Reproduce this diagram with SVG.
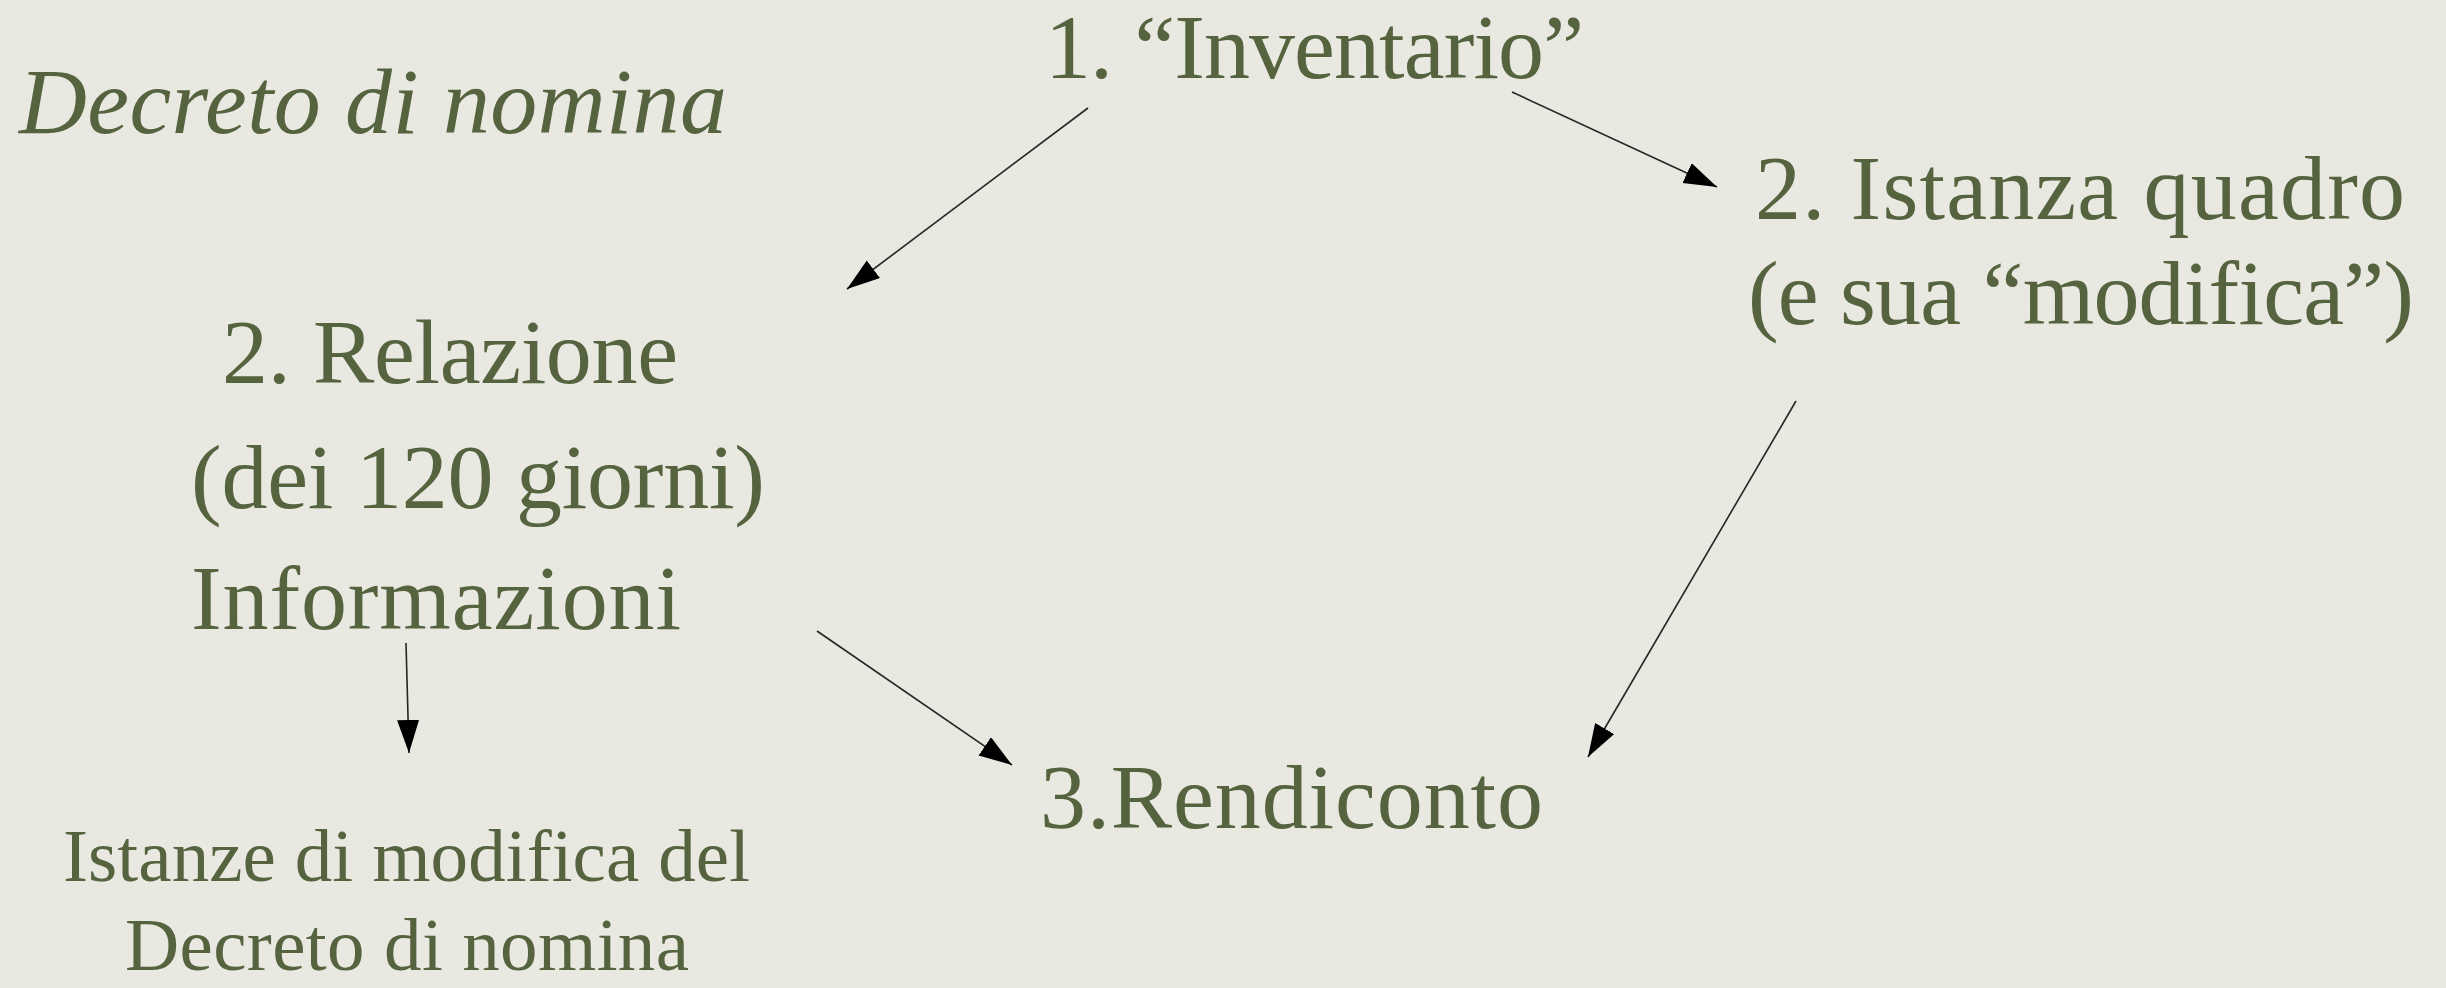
<svg xmlns="http://www.w3.org/2000/svg" width="2446" height="988" viewBox="0 0 2446 988">
  <defs>
    <style>
      .t { font-family: "Liberation Serif", "Times New Roman", serif; fill: #55633f; font-size: 92px; }
      .s { font-size: 75px; }
      .i { font-style: italic; font-size: 94px; }
      .c { stroke: #262626; stroke-width: 1.6; fill: none; marker-end: url(#ah); }
    </style>
    <marker id="ah" markerUnits="userSpaceOnUse" markerWidth="34" markerHeight="24" refX="33" refY="11" orient="auto">
      <path d="M0,0 L33,11 L0,22 z" fill="#000"/>
    </marker>
    <filter id="paper" x="0" y="0" width="100%" height="100%">
      <feTurbulence type="fractalNoise" baseFrequency="0.9" numOctaves="2" seed="3" result="n"/>
      <feColorMatrix type="matrix" values="0 0 0 0 0.5  0 0 0 0 0.5  0 0 0 0 0.45  0 0 0 0.06 0"/>
    </filter>
  </defs>
  <rect width="2446" height="988" fill="#eae9e2"/>
  <rect width="2446" height="988" filter="url(#paper)"/>

  <g id="decreto">
    <text class="t i" x="19" y="133" textLength="708">Decreto di nomina</text>
  </g>
  <g id="inventario">
    <text class="t" x="1045" y="78" textLength="539">1. “Inventario”</text>
  </g>
  <g id="istanza-quadro">
    <text class="t" x="1755" y="219" textLength="650">2. Istanza quadro</text>
    <text class="t" x="1748" y="324" textLength="666">(e sua “modifica”)</text>
  </g>
  <g id="relazione">
    <text class="t" x="222" y="383" textLength="456">2. Relazione</text>
    <text class="t" x="191" y="508" textLength="574">(dei 120 giorni)</text>
    <text class="t" x="191" y="629" textLength="490">Informazioni</text>
  </g>
  <g id="istanze-modifica">
    <text class="t s" x="63" y="881" textLength="687">Istanze di modifica del</text>
    <text class="t s" x="125" y="970" textLength="564">Decreto di nomina</text>
  </g>
  <g id="rendiconto">
    <text class="t" x="1040" y="828" textLength="503">3.Rendiconto</text>
  </g>

  <g id="connectors">
    <line class="c" x1="1088" y1="108" x2="847" y2="289"/>
    <line class="c" x1="1512" y1="92" x2="1717" y2="187"/>
    <line class="c" x1="1796" y1="401" x2="1588" y2="757"/>
    <line class="c" x1="817" y1="631" x2="1012" y2="765"/>
    <line class="c" x1="406" y1="643" x2="409" y2="753"/>
  </g>
</svg>
